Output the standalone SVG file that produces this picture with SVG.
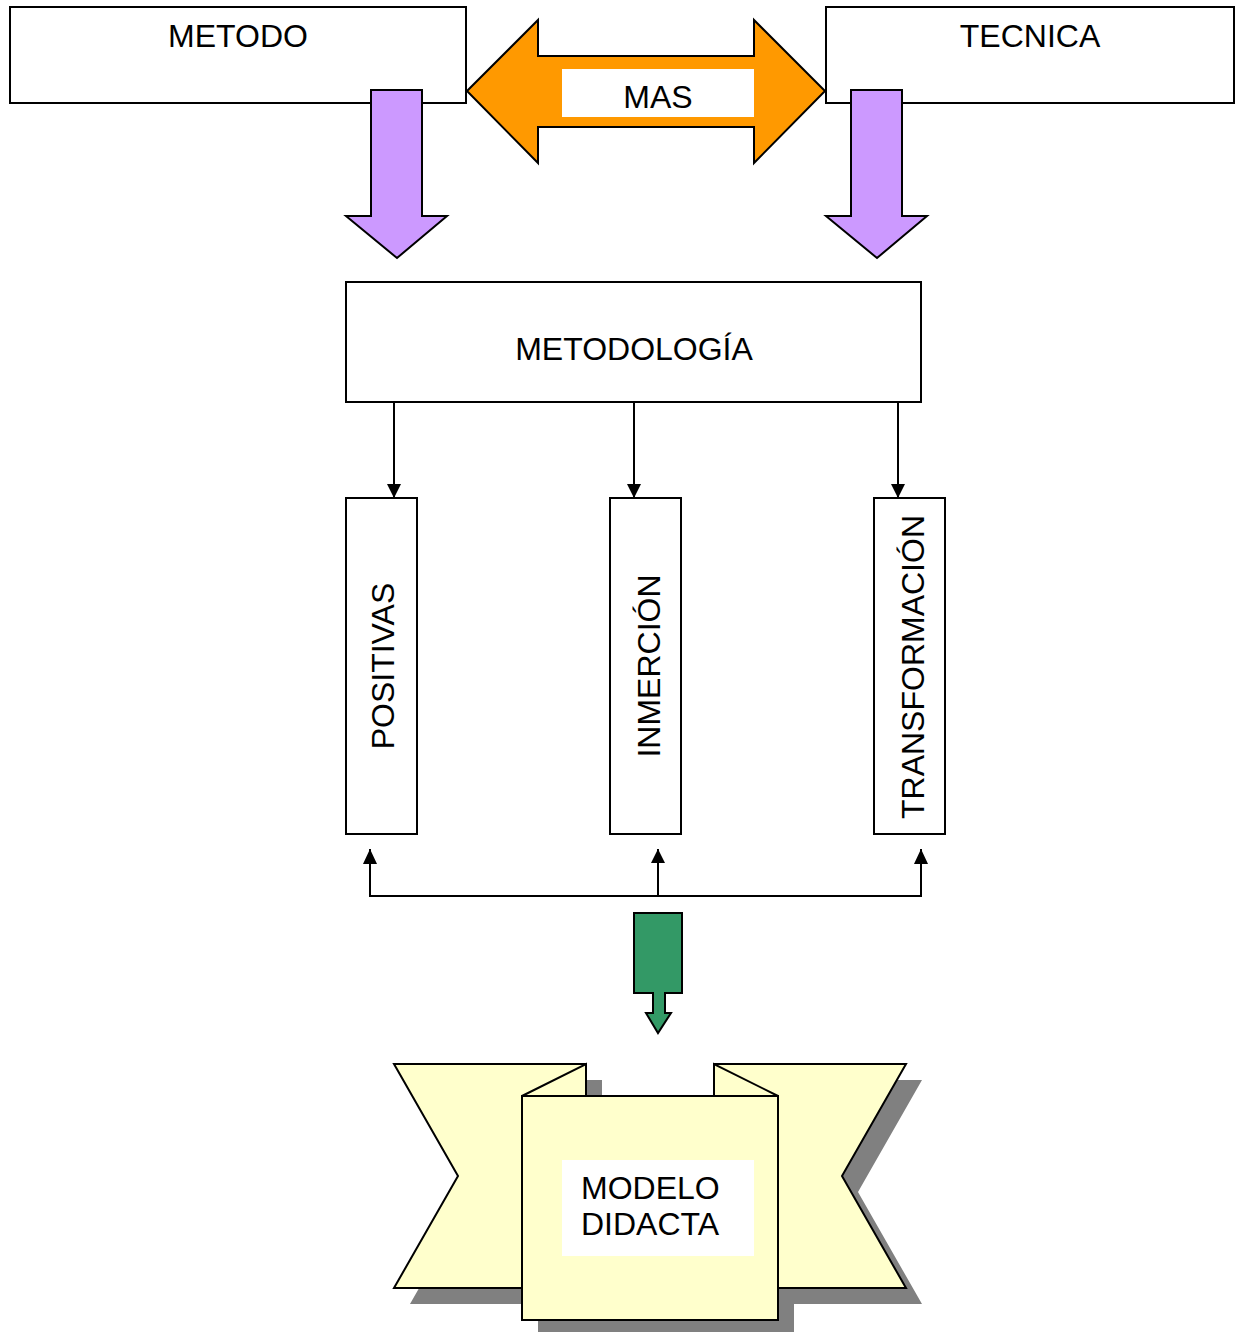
<svg xmlns="http://www.w3.org/2000/svg" width="1235" height="1332" viewBox="0 0 1235 1332">
  <defs>
    <style>
      .box { fill: #ffffff; stroke: #000000; stroke-width: 2; }
      .lbl { font-family: "Liberation Sans", Arial, sans-serif; font-size: 32px; fill: #000000; }
      .mid { text-anchor: middle; }
      .wire { fill: none; stroke: #000000; stroke-width: 2; }
      .block-purple { fill: #cc99ff; stroke: #000000; stroke-width: 2; stroke-linejoin: miter; }
      .block-orange { fill: #ff9900; stroke: #000000; stroke-width: 2; }
      .block-green { fill: #339966; stroke: #000000; stroke-width: 2; }
      .ribbon { fill: #ffffcc; stroke: #000000; stroke-width: 2; stroke-linejoin: miter; }
      .shade { fill: #808080; }
    </style>
    <marker id="head" markerUnits="userSpaceOnUse" markerWidth="14" markerHeight="16" refX="14" refY="7" orient="auto">
      <path d="M0,0 L14,7 L0,14 Z" fill="#000000"/>
    </marker>
  </defs>

  <!-- top row -->
  <g id="metodo">
    <rect class="box" x="10" y="7" width="456" height="96"/>
    <text class="lbl mid" x="238" y="47">METODO</text>
  </g>
  <g id="tecnica">
    <rect class="box" x="826" y="7" width="408" height="96"/>
    <text class="lbl mid" x="1030" y="47">TECNICA</text>
  </g>
  <g id="mas">
    <polygon class="block-orange" points="467,91 538,20 538,56 754,56 754,20 825,91 754,163 754,127 538,127 538,163"/>
    <rect x="562" y="69" width="192" height="48" fill="#ffffff"/>
    <text class="lbl mid" x="658" y="108">MAS</text>
  </g>

  <!-- block arrows into METODOLOGÍA -->
  <g id="arrow-metodo">
    <polygon class="block-purple" points="371,90 422,90 422,216 447,216 397,258 346,216 371,216"/>
  </g>
  <g id="arrow-tecnica">
    <polygon class="block-purple" points="851,90 902,90 902,216 927,216 877,258 826,216 851,216"/>
  </g>

  <g id="metodologia">
    <rect class="box" x="346" y="282" width="575" height="120"/>
    <text class="lbl mid" x="634" y="360">METODOLOGÍA</text>
  </g>

  <!-- vertical boxes -->
  <g id="positivas">
    <rect class="box" x="346" y="498" width="71" height="336"/>
    <text class="lbl mid" transform="translate(394,666) rotate(-90)">POSITIVAS</text>
  </g>
  <g id="inmercion">
    <rect class="box" x="610" y="498" width="71" height="336"/>
    <text class="lbl mid" transform="translate(660,666) rotate(-90)">INMERCIÓN</text>
  </g>
  <g id="transformacion">
    <rect class="box" x="874" y="498" width="71" height="336"/>
    <text class="lbl mid" transform="translate(924,667) rotate(-90)">TRANSFORMACIÓN</text>
  </g>

  <!-- connectors -->
  <g id="connectors">
    <line class="wire" x1="394" y1="403" x2="394" y2="498" marker-end="url(#head)"/>
    <line class="wire" x1="634" y1="403" x2="634" y2="498" marker-end="url(#head)"/>
    <line class="wire" x1="898" y1="403" x2="898" y2="498" marker-end="url(#head)"/>
    <polyline class="wire" points="370,849 370,896 921,896 921,849"/>
    <line class="wire" x1="658" y1="896" x2="658" y2="849" marker-end="url(#head)"/>
    <polygon points="363,864 377,864 370,849" fill="#000000"/>
    <polygon points="914,864 928,864 921,849" fill="#000000"/>
  </g>

  <g id="arrow-modelo">
    <polygon class="block-green" points="634,913 682,913 682,993 665,993 665,1013 671,1013 658,1033 646,1013 653,1013 653,993 634,993"/>
  </g>

  <!-- ribbon banner with drop shadow -->
  <g id="modelo-didacta">
    <g class="shade" transform="translate(16,16)">
      <polygon points="394,1064 586,1064 586,1288 394,1288 458,1176"/>
      <polygon points="714,1064 906,1064 842,1176 906,1288 714,1288"/>
      <rect x="522" y="1096" width="256" height="224"/>
    </g>
    <polygon class="ribbon" points="394,1064 586,1064 586,1288 394,1288 458,1176"/>
    <polygon class="ribbon" points="714,1064 906,1064 842,1176 906,1288 714,1288"/>
    <polygon class="ribbon" points="522,1096 586,1064 586,1096"/>
    <polygon class="ribbon" points="778,1096 714,1064 714,1096"/>
    <rect class="ribbon" x="522" y="1096" width="256" height="224"/>
    <rect x="562" y="1160" width="192" height="96" fill="#ffffff"/>
    <text class="lbl" x="581" y="1199">MODELO</text>
    <text class="lbl" x="581" y="1235">DIDACTA</text>
  </g>
</svg>
